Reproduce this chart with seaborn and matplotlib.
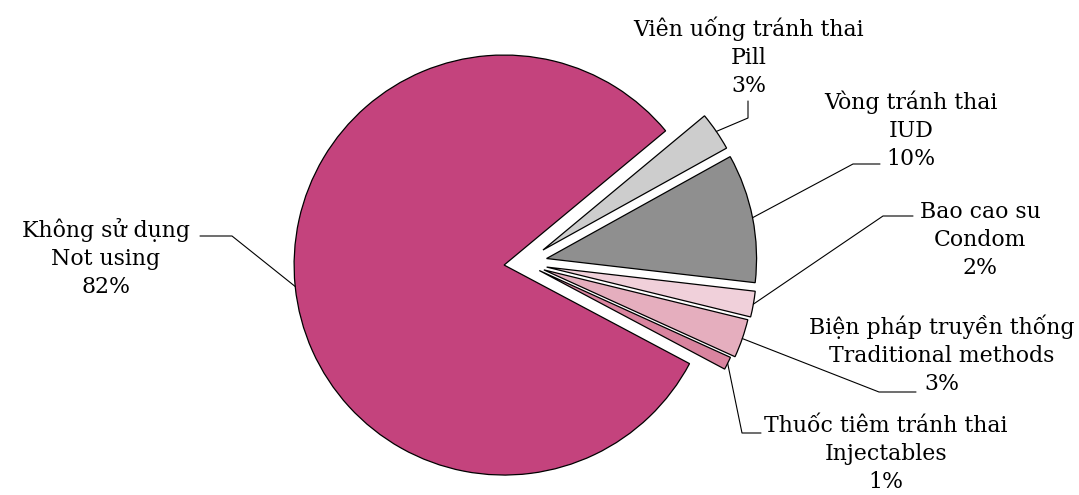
import numpy as np
import matplotlib
matplotlib.use("Agg")
import matplotlib.pyplot as plt
import seaborn as sns

# Contraceptive method shares (%)
labels_vi = ["Không sử dụng", "Viên uống tránh thai", "Vòng tránh thai",
             "Bao cao su", "Biện pháp truyền thống", "Thuốc tiêm tránh thai"]
labels_en = ["Not using", "Pill", "IUD", "Condom", "Traditional methods", "Injectables"]
shares = [82, 3, 10, 2, 3, 1]

colors = ["#C4437D", "#CDCDCD", "#8F8F8F", "#F0D0DA", "#E5AEBE", "#D9849F"]

W, H = 1079, 495
sns.set_theme(style="white")
plt.rcParams["font.family"] = ["DejaVu Serif"]

fig = plt.figure(figsize=(W / 100, H / 100), dpi=100)
ax = fig.add_axes([0, 0, 1, 1])

R = 210
center = (524, H - 263)
explode = [20, 23, 23, 23, 21, 17]

wedges, _ = ax.pie(shares, colors=colors, explode=explode, startangle=-28,
                   counterclock=False, radius=R, center=center,
                   wedgeprops=dict(edgecolor="black", linewidth=0.9))
ax.set_xlim(0, W)
ax.set_ylim(0, H)
ax.set_aspect("equal")
ax.axis("off")

# label block centres and leader-line bends (pixel layout, y measured from top)
text_pos = [(106, 258), (749, 57), (911, 130), (980, 240), (942, 355), (886, 454)]
leader = [[(232, 236), (200, 236)],
          [(748, 118), (748, 101)],
          [(853, 164), (880, 164)],
          [(883, 216), (913, 216)],
          [(879, 392), (916, 392)],
          [(742, 433), (761, 433)]]

for w, vi, en, v, tp, pts in zip(wedges, labels_vi, labels_en, shares, text_pos, leader):
    mid = np.deg2rad((w.theta1 + w.theta2) / 2)
    x0 = w.center[0] + w.r * np.cos(mid)
    y0 = w.center[1] + w.r * np.sin(mid)
    xs = [x0] + [p[0] for p in pts]
    ys = [y0] + [H - p[1] for p in pts]
    ax.plot(xs, ys, color="black", lw=0.8)
    ax.text(tp[0], H - tp[1], f"{vi}\n{en}\n{v}%", ha="center", va="center",
            multialignment="center", fontsize=15.8, linespacing=1.34, color="black")

fig.savefig("out.png", dpi=100)
